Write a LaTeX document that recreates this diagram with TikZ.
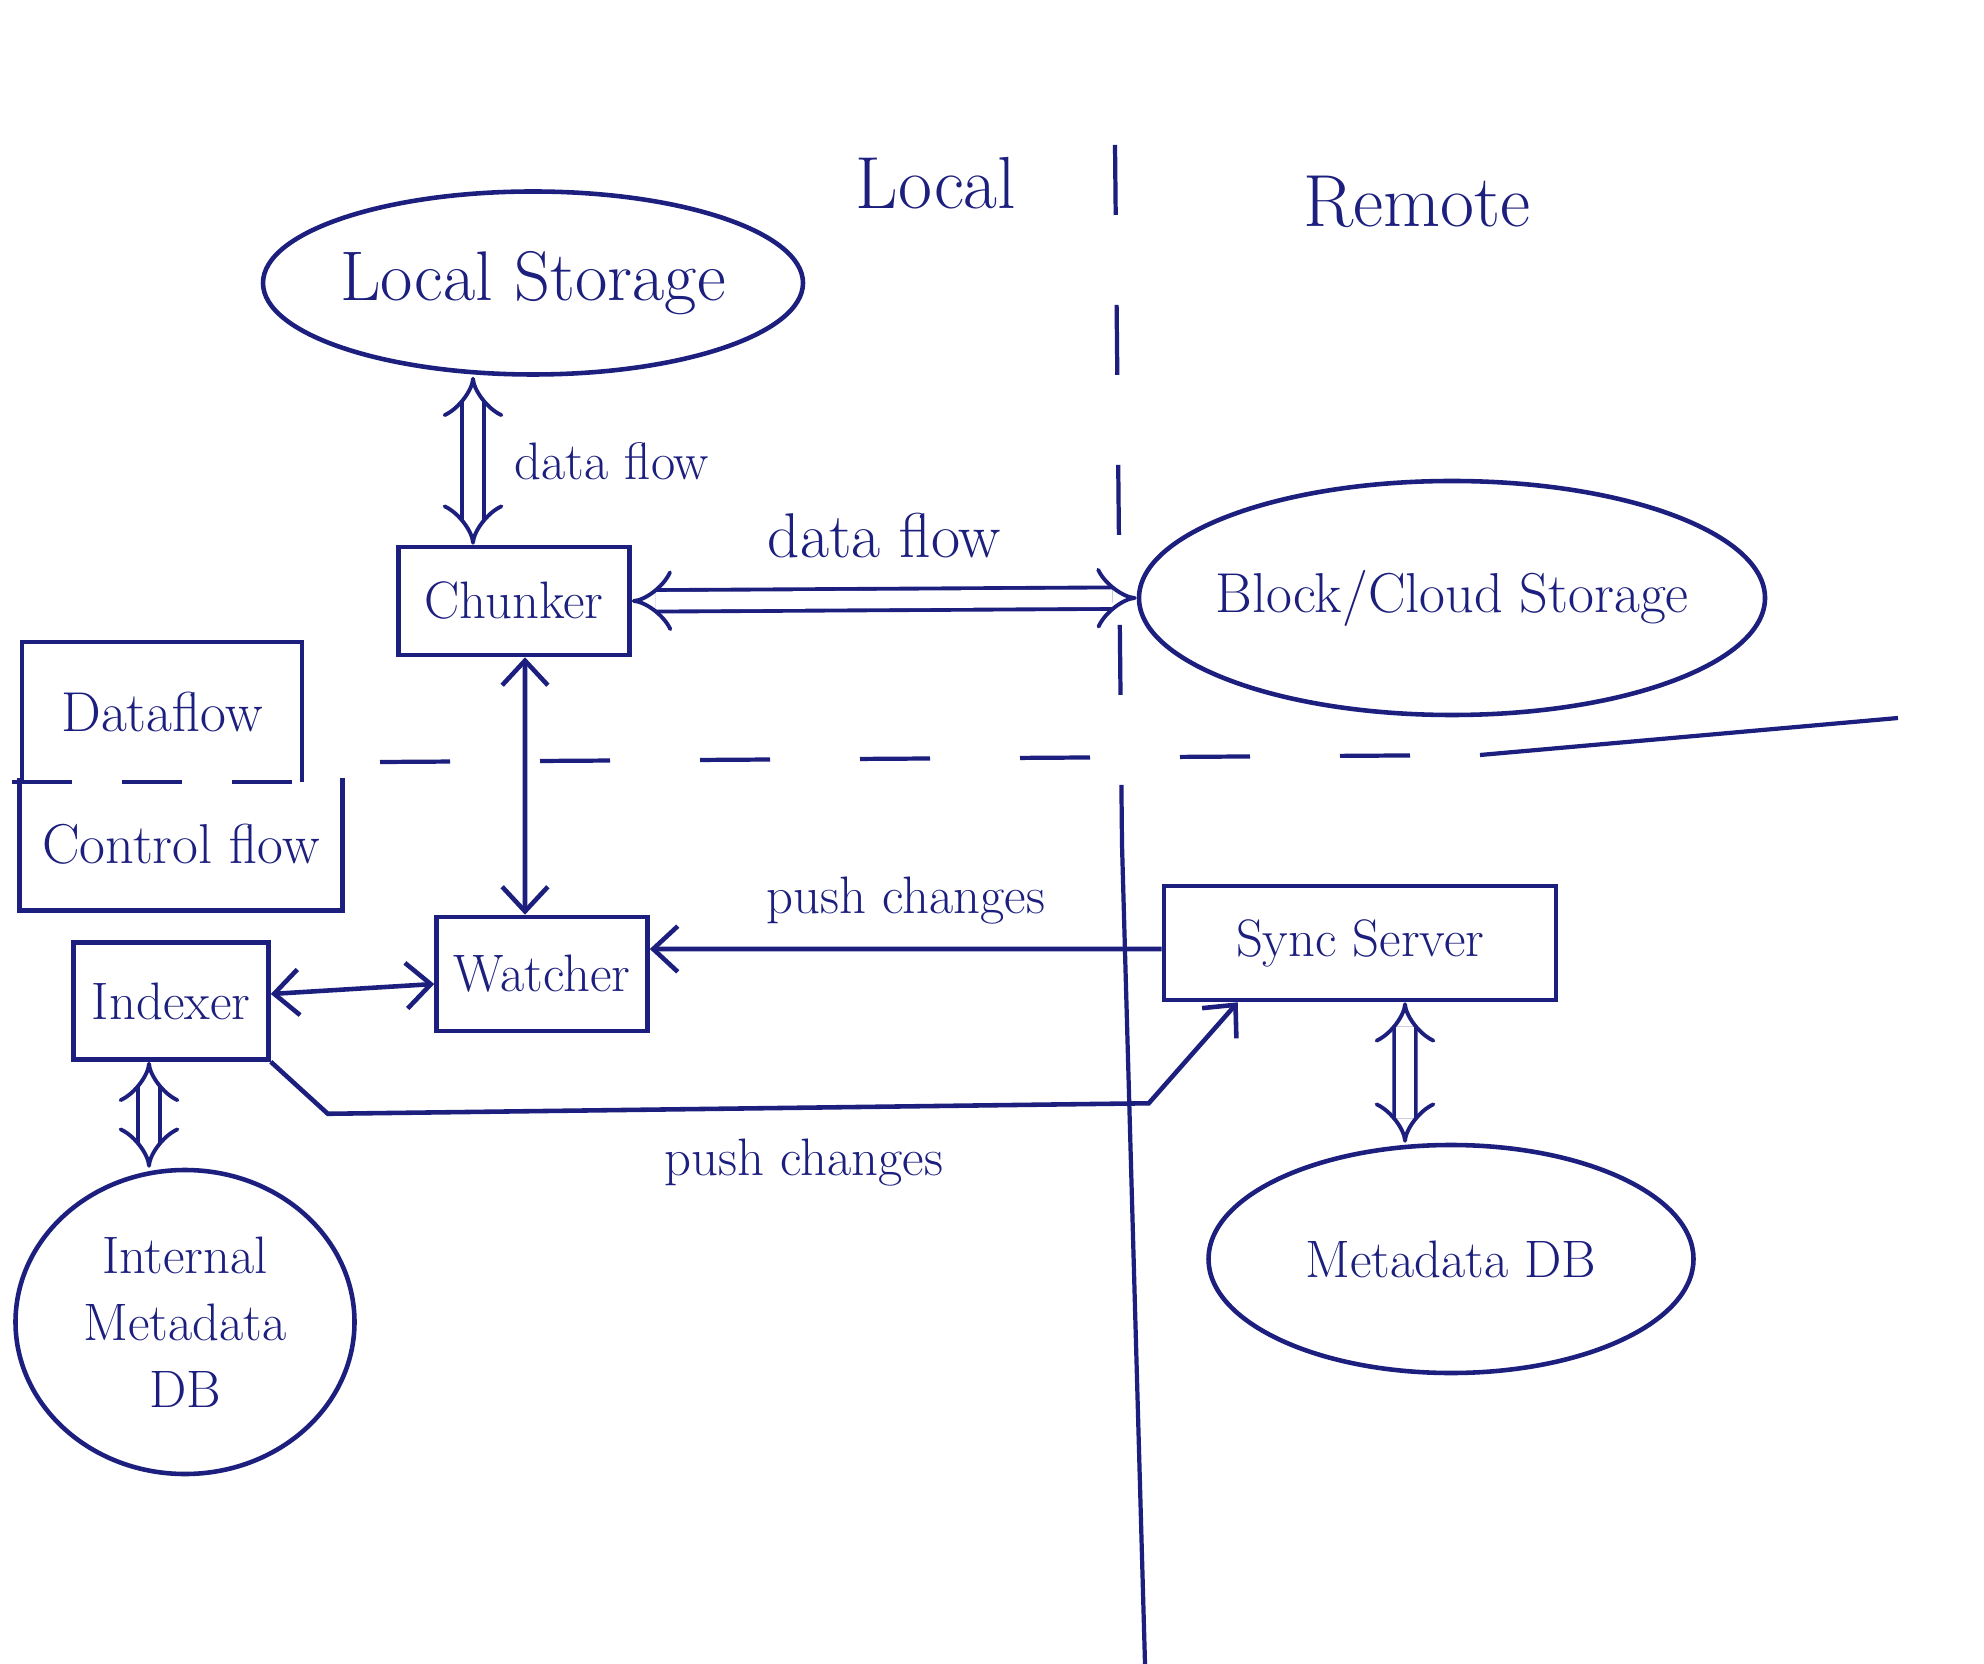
\documentclass[tikz,border=0pt]{standalone}
\usepackage{fontspec}
\usepackage{xcolor}
\usetikzlibrary{arrows.meta,shapes.geometric}
\definecolor{inkblue}{HTML}{1C1F7E}

\begin{document}
\begin{tikzpicture}[line width=1.3pt,color=inkblue,
  box/.style={draw,rectangle,inner sep=2pt,font=\fontsize{15}{18}\selectfont},
  blob/.style={draw,ellipse,inner sep=0pt,font=\fontsize{15}{19}\selectfont,align=center},
  legend/.style={rectangle,inner sep=2pt,font=\fontsize{16}{19}\selectfont},
  side/.style={font=\fontsize{21}{25}\selectfont},
  lbl/.style={font=\fontsize{15}{18}\selectfont},
  sepline/.style={line width=1.2pt,dash pattern=on 0.7cm off 0.9cm},
  flow/.style={-{Straight Barb[length=7pt,width=13pt]}},
  twoway/.style={{Straight Barb[length=7pt,width=13pt]}-{Straight Barb[length=7pt,width=13pt]}},
  dbl/.style={double,double distance=5pt,line width=1.1pt,{Implies}-{Implies}}]
\useasboundingbox (0,0) rectangle (19.84,-16.64);
\fill[white] (0,0) rectangle (19.84,-16.64);

\node[side] (local) at (9.36,-1.83) {Local};
\node[side] (remote) at (14.17,-2.02) {Remote};

\coordinate (vtop) at (11.15,-1.45);
\coordinate (vmid) at (11.22,-8.45);
\coordinate (vbot) at (11.45,-16.64);
\draw[sepline] (vtop) -- (vmid);
\draw[line width=1.2pt] (vmid) -- (vbot);
\coordinate (hleft) at (3.8,-7.62);
\coordinate (hmid) at (14.8,-7.55);
\coordinate (hright) at (18.98,-7.18);
\draw[sepline] (hleft) -- (hmid);
\draw[line width=1.2pt] (hmid) -- (hright);

\node[blob,font=\fontsize{20}{24}\selectfont,inner xsep=-6pt,minimum width=5.4cm,minimum height=1.83cm] (store) at (5.33,-2.83) {Local Storage};
\node[box,minimum width=2.31cm,minimum height=1.08cm] (chunker) at (5.14,-6.01) {Chunker};
\node[blob,font=\fontsize{16}{19}\selectfont,inner xsep=-10pt,minimum width=6.26cm,minimum height=2.34cm] (block) at (14.52,-5.98) {Block/Cloud Storage};

\node[legend,minimum width=2.75cm,minimum height=1.35cm] (dflow) at (1.62,-7.12) {Dataflow};
\node[legend,minimum width=3.18cm,minimum height=1.28cm] (cflow) at (1.81,-8.44) {Control flow};
\draw (dflow.south west) -- (dflow.north west) -- (dflow.north east) -- (dflow.south east);
\draw[sepline,dash pattern=on 0.6cm off 0.5cm] ([xshift=-0.1cm]dflow.south west) -- (dflow.south east);
\draw (cflow.north west) -- (cflow.south west) -- (cflow.south east) -- (cflow.north east);

\node[box,minimum width=1.95cm,minimum height=1.17cm] (indexer) at (1.71,-10.01) {Indexer};
\node[box,minimum width=2.11cm,minimum height=1.14cm] (watcher) at (5.42,-9.74) {Watcher};
\node[box,minimum width=3.92cm,minimum height=1.14cm] (sync) at (13.60,-9.43) {Sync Server};

\node[blob,minimum width=3.39cm,minimum height=3.04cm] (idb) at (1.85,-13.22) {Internal\\Metadata\\DB};
\node[blob,minimum width=4.85cm,minimum height=2.28cm] (mdb) at (14.51,-12.59) {Metadata DB};

\draw[dbl] ([xshift=-0.6cm]store.south) -- ([xshift=-0.41cm]chunker.north)
  node[lbl,midway,right=8pt] {data flow};
\draw[dbl] (chunker.east) -- (block.west)
  node[lbl,midway,above=8pt,font=\fontsize{18}{21}\selectfont] {data flow};
\draw[twoway] ([xshift=0.11cm]chunker.south) -- ([xshift=-0.17cm]watcher.north);
\draw[flow] ([yshift=-0.06cm]sync.west) -- ([yshift=0.25cm]watcher.east)
  node[lbl,midway,above=3pt] {push changes};
\draw[twoway] ([yshift=0.07cm]indexer.east) -- ([yshift=-0.1cm]watcher.west);
\draw[flow] (indexer.south east) -- ++(0.57,-0.52)
  -- ([shift={(-0.13,-1.01)}]sync.south west)
  node[lbl,pos=0.58,below=5pt] {push changes}
  -- ([xshift=0.76cm]sync.south west);
\draw[dbl] ([xshift=-0.22cm]indexer.south) -- ([xshift=-0.36cm]idb.north);
\draw[dbl] ([xshift=0.45cm]sync.south) -- ([xshift=-0.46cm]mdb.north);
\end{tikzpicture}
\end{document}
